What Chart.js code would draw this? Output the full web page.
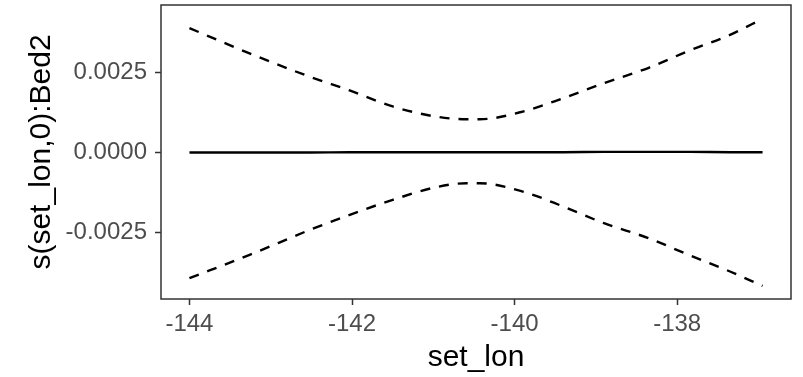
<!DOCTYPE html>
<html>
<head>
<meta charset="utf-8">
<title>s(set_lon,0):Bed2</title>
<script src="https://cdn.jsdelivr.net/npm/chart.js@4"></script>
<style>
  html, body { margin: 0; padding: 0; background: #ffffff; }
  #wrap { width: 803px; height: 377px; }
</style>
</head>
<body>
<div id="wrap"><canvas id="chartSmooth" width="803" height="377"></canvas></div>
<script>
// values
const LON = [-144, -143.26, -142.52, -142.03, -141.5, -140.96, -140.59, -140.43, -139.9, -139.4, -138.9, -138.35, -137.85, -137.35, -136.95];
const FIT = [-0.00001, -0.00001, -0.00001, 0, 0, 0, 0, 0, 0, 0, 0.00001, 0.00001, 0.00001, 0, 0];
const UPPER = [0.00388, 0.00309, 0.00236, 0.00193, 0.00143, 0.00111, 0.00103, 0.00103, 0.00127, 0.00169, 0.00216, 0.00264, 0.00318, 0.00367, 0.00417];
const LOWER = [-0.00394, -0.00321, -0.00243, -0.00196, -0.00149, -0.00109, -0.00097, -0.00097, -0.00123, -0.0017, -0.00222, -0.00269, -0.00322, -0.00373, -0.00418];

const X_TICKS = [-144, -142, -140, -138];
const Y_TICKS = [-0.0025, 0, 0.0025];

const FONT = "'Liberation Sans', Arial, sans-serif";
const PANEL = { left: 161, right: 791, top: 5, bottom: 299 };

function toPoints(values) {
  return LON.map((lon, i) => ({ x: lon, y: values[i] }));
}

function lineDataset(label, values, dashed) {
  return {
    label,
    data: toPoints(values),
    borderColor: '#000000',
    borderWidth: 2.4,
    borderDash: dashed ? [10, 9] : [],
    cubicInterpolationMode: 'monotone',
    pointRadius: 0,
    fill: false
  };
}

// ggplot-style panel border round the plotting area
const panelBorder = {
  id: 'panelBorder',
  afterDraw(chart) {
    const { ctx, chartArea } = chart;
    ctx.save();
    ctx.strokeStyle = '#333333';
    ctx.lineWidth = 1.5;
    ctx.strokeRect(chartArea.left, chartArea.top, chartArea.right - chartArea.left, chartArea.bottom - chartArea.top);
    ctx.restore();
  }
};

const tickGrid = {
  drawOnChartArea: false,
  drawTicks: true,
  tickLength: 6,
  tickWidth: 1.5,
  color: '#333333'
};

// the panel is placed by hand, so drop the label overhang padding
function noOverhang(scale) {
  scale.paddingTop = 0;
  scale.paddingBottom = 0;
  scale.paddingLeft = 0;
  scale.paddingRight = 0;
}

new Chart(document.getElementById('chartSmooth'), {
  type: 'line',
  data: {
    datasets: [
      lineDataset('fit', FIT, false),
      lineDataset('upper', UPPER, true),
      lineDataset('lower', LOWER, true)
    ]
  },
  options: {
    responsive: false,
    animation: false,
    layout: { padding: { left: 24, right: 803 - PANEL.right, top: PANEL.top, bottom: 1 } },
    plugins: { legend: { display: false }, tooltip: { enabled: false } },
    scales: {
      x: {
        type: 'linear',
        min: -144.35,
        max: -136.6,
        afterBuildTicks: (scale) => { scale.ticks = X_TICKS.map((value) => ({ value })); },
        afterFit: (scale) => { scale.height = 377 - 1 - PANEL.bottom; noOverhang(scale); },
        border: { display: false },
        grid: tickGrid,
        ticks: {
          color: '#4d4d4d',
          font: { family: FONT, size: 24 },
          padding: 5,
          maxRotation: 0,
          callback: (v) => String(v)
        },
        title: {
          display: true,
          text: 'set_lon',
          color: '#000000',
          font: { family: FONT, size: 30 },
          padding: 0
        }
      },
      y: {
        type: 'linear',
        min: -0.00459,
        max: 0.004603,
        afterBuildTicks: (scale) => { scale.ticks = Y_TICKS.map((value) => ({ value })); },
        afterFit: (scale) => { scale.width = PANEL.left - 24; noOverhang(scale); },
        border: { display: false },
        grid: tickGrid,
        ticks: {
          color: '#4d4d4d',
          font: { family: FONT, size: 24 },
          padding: 8,
          callback: (v) => v.toFixed(4)
        },
        title: {
          display: true,
          text: 's(set_lon,0):Bed2',
          color: '#000000',
          font: { family: FONT, size: 30 },
          padding: 0
        }
      }
    }
  },
  plugins: [panelBorder]
});
</script>
</body>
</html>
